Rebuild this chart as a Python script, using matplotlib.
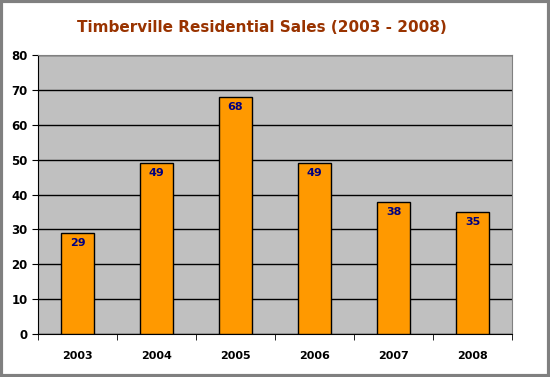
import matplotlib
matplotlib.use("Agg")
import matplotlib.pyplot as plt
from matplotlib.patches import Rectangle

years = ["2003", "2004", "2005", "2006", "2007", "2008"]
sales = [29, 49, 68, 49, 38, 35]

fig = plt.figure(figsize=(5.5, 3.77), dpi=100)
ax = fig.add_axes([0.069, 0.114, 0.862, 0.74])
ax.set_facecolor("#C0C0C0")

x = list(range(len(years)))
bars = ax.bar(x, sales, width=0.42, color="#FF9900", edgecolor="black", linewidth=1, zorder=3)
for xi, v in zip(x, sales):
    ax.text(xi, v - 1.5, str(v), ha="center", va="top", color="#000080",
            fontsize=8, fontweight="bold", zorder=4)

ax.set_xlim(-0.5, len(years) - 0.5)
ax.set_ylim(0, 80)
ax.set_yticks(range(0, 81, 10))
ax.yaxis.grid(True, color="black", linewidth=1, zorder=1)
ax.set_axisbelow(True)
ax.set_xticks(x)
ax.set_xticklabels(years, fontsize=8, fontweight="bold")
ax.set_xticks([i + 0.5 for i in range(-1, len(years))], minor=True)
ax.tick_params(axis="x", which="major", length=0, pad=12)
ax.tick_params(axis="x", which="minor", length=4, direction="out", color="black")
ax.tick_params(axis="y", length=4, labelsize=8.5, direction="out")
for lab in ax.get_yticklabels():
    lab.set_fontweight("bold")

ax.spines["top"].set_color("#808080")
ax.spines["right"].set_color("#808080")
ax.spines["left"].set_color("black")
ax.spines["bottom"].set_color("black")

fig.text(0.477, 0.928, "Timberville Residential Sales (2003 - 2008)", ha="center", va="center",
         color="#993300", fontsize=11, fontweight="bold")

fig.patches.append(Rectangle((0.002, 0.003), 0.996, 0.994, transform=fig.transFigure,
                             fill=False, edgecolor="#808080", linewidth=3))

fig.savefig("out.png", dpi=100)
